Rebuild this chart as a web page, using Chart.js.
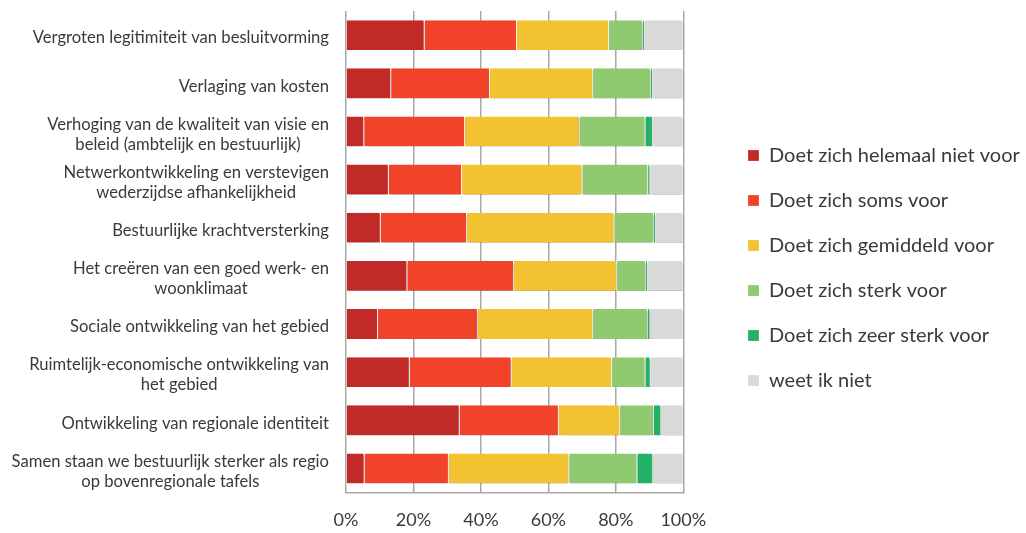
<!DOCTYPE html>
<html>
<head>
<meta charset="utf-8">
<script src="https://cdn.jsdelivr.net/npm/chart.js@4/dist/chart.umd.min.js"></script>
<style>
html,body{margin:0;padding:0;background:#fff;}
#wrap{width:1026px;height:533px;position:relative;}
</style>
</head>
<body>
<div id="wrap"><canvas id="c" width="1026" height="533"></canvas></div>
<script>
const categories = [
  "Vergroten legitimiteit van besluitvorming",
  "Verlaging van kosten",
  ["Verhoging van de kwaliteit van visie en", "beleid (ambtelijk en bestuurlijk)"],
  ["Netwerkontwikkeling en verstevigen", "wederzijdse afhankelijkheid"],
  "Bestuurlijke krachtversterking",
  ["Het creëren van een goed werk- en", "woonklimaat"],
  "Sociale ontwikkeling van het gebied",
  ["Ruimtelijk-economische ontwikkeling van", "het gebied"],
  "Ontwikkeling van regionale identiteit",
  ["Samen staan we bestuurlijk sterker als regio", "op bovenregionale tafels"]
];
const seriesNames = [
  "Doet zich helemaal niet voor",
  "Doet zich soms voor",
  "Doet zich gemiddeld voor",
  "Doet zich sterk voor",
  "Doet zich zeer sterk voor",
  "weet ik niet"
];
const helemaalNiet = [23.3, 13.4, 5.4, 12.7, 10.3, 18.2, 9.5, 18.9, 33.7, 5.5];
const soms         = [27.4, 29.3, 29.9, 21.7, 25.6, 31.6, 29.6, 30.2, 29.4, 25.0];
const gemiddeld    = [27.3, 30.6, 34.0, 35.7, 43.7, 30.6, 34.2, 29.8, 18.2, 35.7];
const sterk        = [10.0, 17.1, 19.5, 19.5, 11.7, 8.5, 16.2, 9.9, 10.0, 20.2];
const zeerSterk    = [0.6, 0.6, 2.2, 0.6, 0.6, 0.6, 0.7, 1.5, 2.2, 4.7];
const weetNiet     = [11.4, 9.0, 9.0, 9.8, 8.1, 10.5, 9.8, 9.7, 6.5, 8.9];
const xTicks = [0, 20, 40, 60, 80, 100];

const colors = ["#C22A27", "#F0432A", "#F2C231", "#8FC970", "#23B167", "#D9D9D7"];
const seriesValues = [helemaalNiet, soms, gemiddeld, sterk, zeerSterk, weetNiet];

const FONT = "Lato, 'Open Sans', sans-serif";
const TEXT = "#3a3a3a";

const shadowPlugin = {
  id: 'barShadow',
  beforeDatasetsDraw(chart) {
    const ctx = chart.ctx;
    ctx.save();
    ctx.shadowColor = 'rgba(0,0,0,0.45)';
    ctx.shadowOffsetY = 2;
    ctx.shadowOffsetX = 0;
    ctx.shadowBlur = 1.5;
  },
  afterDatasetsDraw(chart) {
    chart.ctx.restore();
  }
};

const yLabelPlugin = {
  id: 'yLabels',
  afterDraw(chart) {
    const ctx = chart.ctx;
    const ys = chart.scales.y;
    const right = chart.chartArea.left - 17;
    ctx.save();
    ctx.font = "16.6px " + FONT;
    ctx.fillStyle = TEXT;
    ctx.textAlign = 'center';
    ctx.textBaseline = 'middle';
    const lh = 20;
    categories.forEach((lab, i) => {
      const lines = Array.isArray(lab) ? lab : [lab];
      const w = Math.max(...lines.map(l => ctx.measureText(l).width));
      const cx = right - w / 2;
      const cy = ys.getPixelForValue(i) + 3;
      const y0 = cy - (lines.length - 1) * lh / 2;
      lines.forEach((l, k) => ctx.fillText(l, cx, y0 + k * lh));
    });
    ctx.restore();
  }
};

const legendShift = {
  id: 'legendShift',
  afterLayout(chart) {
    const lg = chart.legend;
    if (!lg) return;
    const pad = lg.options.labels.padding;
    lg.left = 748 - pad;
    lg.right = chart.width;
    lg.width = lg.right - lg.left;
    lg.top -= 4;
    lg.bottom -= 4;
  }
};

new Chart(document.getElementById('c'), {
  type: 'bar',
  data: {
    labels: categories,
    datasets: seriesNames.map((n, i) => ({
      label: n,
      data: seriesValues[i],
      backgroundColor: colors[i],
      borderColor: 'rgba(255,255,255,0.85)',
      borderWidth: {left: 0, right: 1, top: 0, bottom: 0},
      borderSkipped: false,
      categoryPercentage: 1,
      barPercentage: 0.62
    }))
  },
  options: {
    indexAxis: 'y',
    responsive: false,
    animation: false,
    layout: {padding: {top: 11, right: 115, bottom: 0, left: 0}},
    plugins: {
      tooltip: {enabled: false},
      legend: {
        position: 'right',
        align: 'center',
        labels: {
          boxWidth: 11,
          boxHeight: 11,
          padding: 25,
          color: TEXT,
          font: {family: FONT, size: 20}
        }
      }
    },
    scales: {
      x: {
        stacked: true,
        min: 0,
        max: 100,
        afterBuildTicks(s) { s.ticks = xTicks.map(v => ({value: v})); },
        afterFit(s) { s.height = 40.5; },
        ticks: {
          callback: v => v + '%',
          color: TEXT,
          font: {family: FONT, size: 18},
          padding: 17
        },
        grid: {color: '#a8a8a8', lineWidth: 1.5, drawTicks: false},
        border: {display: true, color: '#a8a8a8', width: 1.5}
      },
      y: {
        stacked: true,
        afterFit(s) { s.width = 346; },
        ticks: {display: false},
        grid: {display: false},
        border: {display: false}
      }
    }
  },
  plugins: [shadowPlugin, yLabelPlugin, legendShift]
});
</script>
</body>
</html>
